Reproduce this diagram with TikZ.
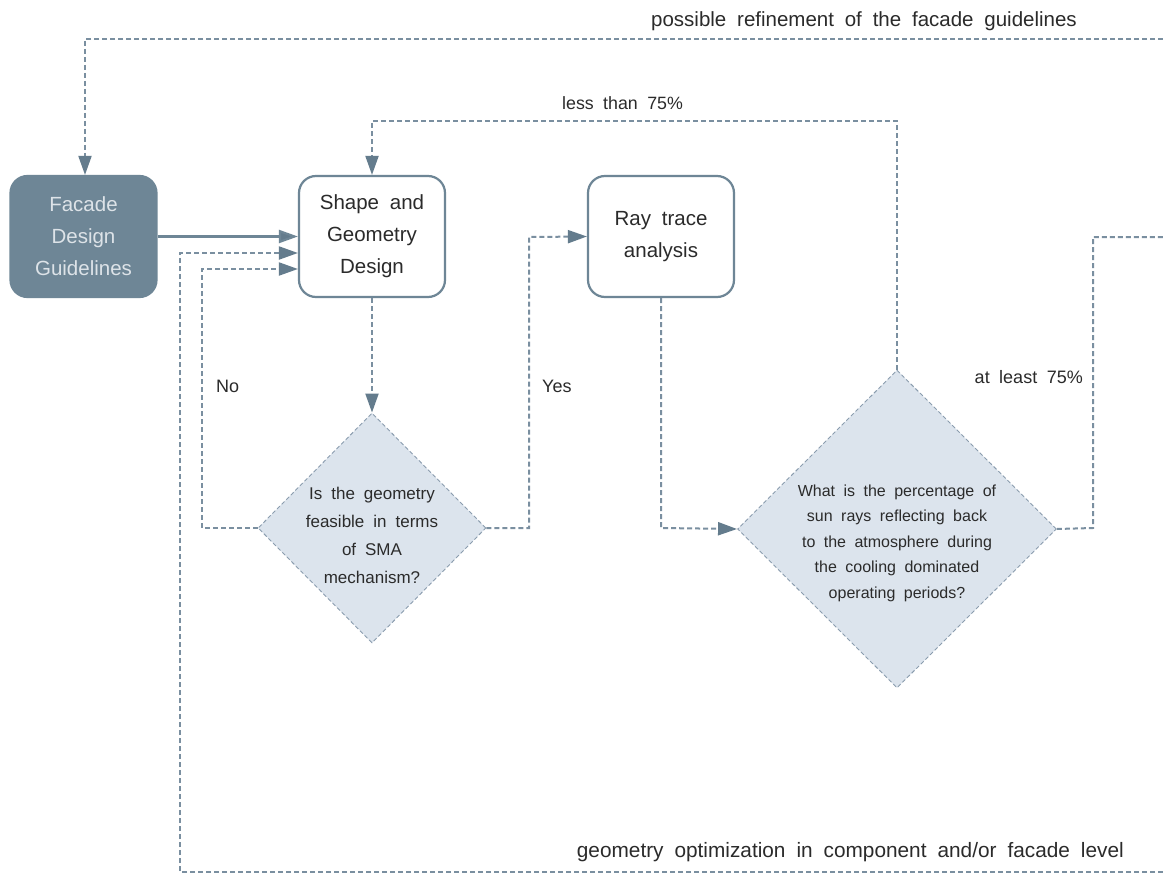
\documentclass[tikz,border=0pt]{standalone}
\usepackage{fontspec}
\setmainfont{Liberation Sans}[WordSpace=1.9]
\usetikzlibrary{arrows.meta,shapes.geometric}
\definecolor{boxblue}{HTML}{6E8696}
\definecolor{linec}{HTML}{7A8FA0}
\definecolor{tipc}{HTML}{647C8D}
\definecolor{diafill}{HTML}{DCE4ED}
\definecolor{diaedge}{HTML}{8A9CAE}
\definecolor{txt}{HTML}{2B2B2B}
\definecolor{lighttxt}{HTML}{DDE3E8}
\tikzset{
  procbox/.style={draw=boxblue, line width=2.2pt, rounded corners=17pt, fill=white,
    minimum width=146pt, minimum height=121pt, align=center, text=txt,
    font=\fontsize{20.5}{32}\selectfont},
  startbox/.style={procbox, fill=boxblue, text=lighttxt},
  decision/.style={diamond, draw=diaedge, fill=diafill, line width=0.9pt,
    dash pattern=on 4pt off 2.5pt, inner sep=0pt},
  dtext/.style={align=center, text=txt, inner sep=0pt},
  lbl/.style={text=txt, inner sep=0pt},
  solidarrow/.style={draw=boxblue, line width=2.2pt, -{Triangle[length=19pt,width=13pt,fill=tipc]}},
  dasharrow/.style={draw=linec, line width=2pt, dash pattern=on 5pt off 3pt,
    -{Triangle[length=19pt,width=13pt,fill=tipc,color=tipc]}},
  dashline/.style={draw=linec, line width=2pt, dash pattern=on 5pt off 3pt}
}
\begin{document}
\begin{tikzpicture}[x=1pt,y=-1pt]
\useasboundingbox (0,0) rectangle (1163,875);
\fill[white] (0,0) rectangle (1163,875);

% nodes
\node[startbox] (fdg) at (83.5,236.5) {Facade\\Design\\Guidelines};
\node[procbox] (sgd) at (372,236.5) {Shape and\\Geometry\\Design};
\node[procbox] (rta) at (661,236.5) {Ray trace\\analysis};
\node[decision, minimum width=228pt, minimum height=230pt] (d1) at (372,528) {};
\node[dtext, font=\fontsize{17}{28}\selectfont] (d1t) at (372,535) {Is the geometry\\feasible in terms\\of SMA\\mechanism?};
\node[decision, minimum width=319pt, minimum height=318pt] (d2) at (897,529) {};
\node[dtext, font=\fontsize{16}{25.5}\selectfont] (d2t) at (897,543) {What is the percentage of\\sun rays reflecting back\\to the atmosphere during\\the cooling dominated\\operating periods?};

% free ends
\coordinate (topR) at (1163,39);
\coordinate (botR) at (1163,872);
\coordinate (outR) at (1163,237);

% connectors
\draw[solidarrow] (fdg.east) -- (sgd.west);
\draw[dasharrow] (topR) -- (85,39) -- (fdg.north -| 85,0);
\draw[dasharrow] (botR) -- (180,872) -- (180,253) -- (sgd.west |- 0,253);
\draw[dasharrow] (d1.west) -- (202,528) -- (202,269) -- (sgd.west |- 0,269);
\draw[dasharrow] (sgd.south) -- (d1.north);
\draw[dasharrow] (d1.east) -- (529,528) -- (529,237) -- (rta.west);
\draw[dasharrow] (rta.south) -- (661,528) -- (d2.west);
\draw[dasharrow] (d2.north) -- (897,121) -- (372,121) -- (sgd.north);
\draw[dashline] (d2.east) -- (1093,528) -- (1093,237) -- (outR);

% labels
\node[lbl, anchor=base, font=\fontsize{20.5}{22}\selectfont] (l1) at (864,27) {possible refinement of the facade guidelines};
\node[lbl, anchor=base west, font=\fontsize{17.8}{20}\selectfont] (l2) at (562,110) {less than 75\%};
\node[lbl, anchor=base east, font=\fontsize{18}{20}\selectfont] (l3) at (1083,383) {at least 75\%};
\node[lbl, anchor=base west, font=\fontsize{18}{20}\selectfont] (l4) at (216,392) {No};
\node[lbl, anchor=base west, font=\fontsize{18}{20}\selectfont] (l5) at (542,392) {Yes};
\node[lbl, anchor=base east, font=\fontsize{20.8}{22}\selectfont] (l6) at (1124,857) {geometry optimization in component and/or facade level};
\end{tikzpicture}
\end{document}
